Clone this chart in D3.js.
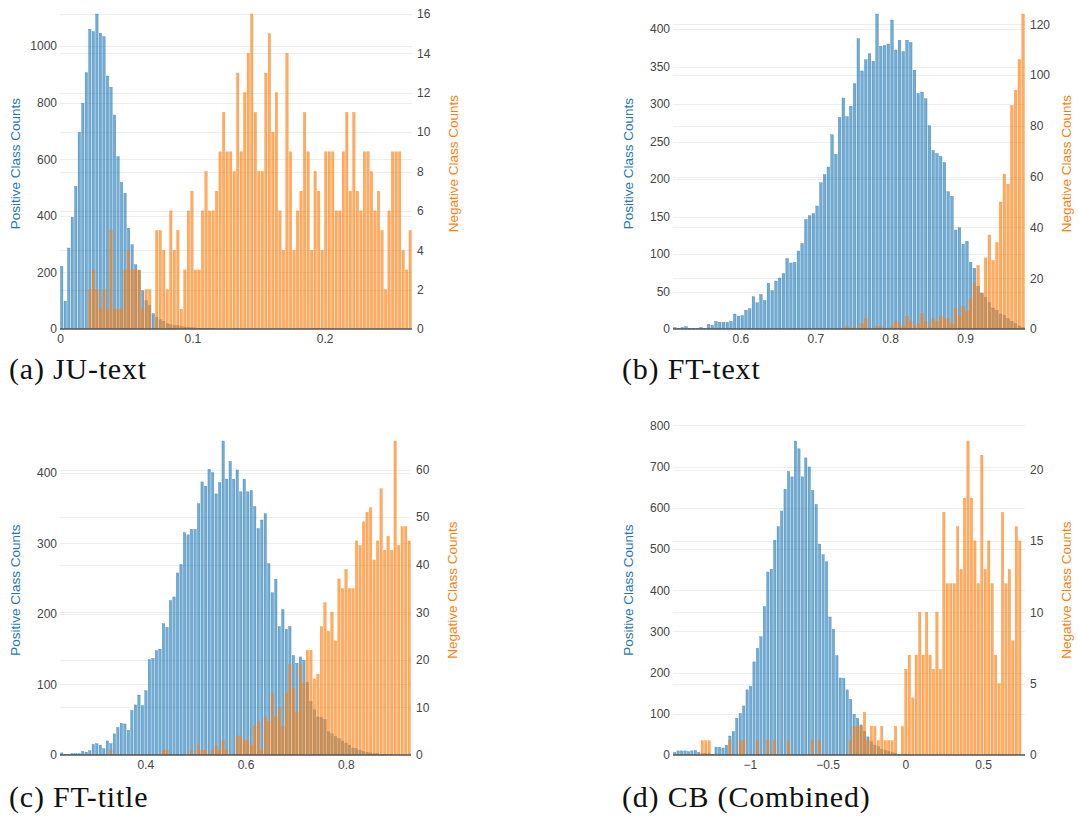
<!DOCTYPE html>
<html>
<head>
<meta charset="utf-8">
<script src="https://cdn.jsdelivr.net/npm/d3@7"></script>
<style>
  body { margin: 0; background: #fff; }
  svg text { font-family: "Liberation Sans", Arial, sans-serif; }
</style>
</head>
<body>
<div id="chart"></div>
<script>
// ---- (a) JU-text ----
var juTextBin = 0.00266, juTextPosStart = 0, juTextNegStart = 0.02128;
var juTextPos = [221,98,286,395,504,695,798,906,1059,1051,1113,1045,1033,894,854,756,609,518,480,356,
  298,227,207,135,100,82,54,42,33,27,19,15,13,12,9,7,6,5,4,3,2,2,1,1];
var juTextNeg = [2,3,2,1,2,1,5,1,1,1,3,4,3,3,3,1,2,2,0,5,5,4,2,6,4,5,1,3,6,7,3,3,6,8,6,6,7,9,11,9,9,8,13,
  9,12,14,16,11,8,8,13,15,10,12,6,4,14,9,4,6,7,11,9,4,8,7,4,9,9,9,6,6,9,11,7,11,7,6,9,9,8,6,7,5,2,6,9,9,9,4,3,5];
var juTextXTicks = [0, 0.1, 0.2];
var juTextLeftTicks = [0, 200, 400, 600, 800, 1000];
var juTextRightTicks = [0, 2, 4, 6, 8, 10, 12, 14, 16];

// ---- (b) FT-text ----
var ftTextBin = 0.005, ftTextPosStart = 0.51, ftTextNegStart = 0.74;
var ftTextPos = [2,1,2,3,1,1,1,2,1,6,5,10,9,9,9,10,20,17,18,25,27,43,35,46,38,61,51,64,68,74,
  94,88,89,104,114,146,151,154,164,195,206,216,259,233,282,308,283,297,327,387,344,359,367,357,420,
  377,378,380,412,372,385,370,385,382,345,314,316,307,271,238,234,230,222,183,177,132,135,113,117,
  89,81,57,48,42,35,28,25,20,18,14,10,7,4,2];
var ftTextNeg = [1,0,1,0,2,4,0,0,1,1,0,0,1,3,2,1,5,3,1,2,6,3,1,4,3,5,4,4,2,8,5,9,7,12,
  18,25,14,28,37,27,34,50,61,57,88,94,106,124];
var ftTextXTicks = [0.6, 0.7, 0.8, 0.9];
var ftTextLeftTicks = [0, 50, 100, 150, 200, 250, 300, 350, 400];
var ftTextRightTicks = [0, 20, 40, 60, 80, 100, 120];

// ---- (c) FT-title ----
var ftTitleBin = 0.007, ftTitlePosStart = 0.23, ftTitleNegStart = 0.328;
var ftTitlePos = [3,1,1,2,2,2,5,4,6,15,16,14,9,20,16,30,39,45,44,35,63,71,85,70,91,135,137,148,150,186,
  181,219,224,258,270,315,312,320,320,356,387,381,405,400,370,386,445,391,416,391,404,
  373,391,373,375,352,321,333,342,271,230,249,182,206,178,182,141,130,139,134,103,
  76,64,54,53,50,33,30,26,23,20,17,14,10,9,7,5,4,3,2,2,1,1,1,1];
var ftTitleNeg = [1,0,0,0,0,0,0,0,0,0,0,0,0,0,0,1,1,0,0,0,0,0,0,1,0,2,1,1,0,1,2,1,3,1,0,0,
  4,4,3,3,2,6,7,1,8,7,13,8,10,6,13,19,14,9,19,15,22,22,16,17,27,32,26,30,24,37,
  35,39,35,35,45,44,49,51,52,41,45,56,43,46,43,66,44,48,48,45];
var ftTitleXTicks = [0.4, 0.6, 0.8];
var ftTitleLeftTicks = [0, 100, 200, 300, 400];
var ftTitleRightTicks = [0, 10, 20, 30, 40, 50, 60];

// ---- (d) CB (Combined) ----
var cbBin = 0.0222, cbPosStart = -1.495, cbNegStart = -1.3174;
var cbPos = [6,10,10,10,8,10,11,6,3,4,4,2,19,19,17,24,46,57,89,101,119,158,167,226,259,287,360,444,451,
  521,554,592,645,688,675,762,743,675,721,699,642,608,512,486,469,335,305,241,187,186,158,135,99,
  89,73,57,44,32,24,20,14,12,8,6,4,2,1,1];
var cbNeg = [1,1,1,0,0,0,0,0,1,0,0,1,1,0,0,0,1,0,0,1,0,1,0,0,0,1,0,0,0,0,0,0,1,0,1,0,0,0,0,0,0,0,0,
  1,2,2,2,3,1,2,2,1,2,1,1,1,2,0,2,6,7,4,7,10,7,10,7,6,10,6,17,12,12,12,16,13,18,22,18,15,12,21,
  13,15,12,7,5,17,12,13,8,16,15];
var cbXTicks = [-1, -0.5, 0, 0.5];
var cbLeftTicks = [0, 100, 200, 300, 400, 500, 600, 700, 800];
var cbRightTicks = [0, 5, 10, 15, 20];

var blue = "#1f77b4", orange = "#ff7f0e";

var panels = [
  {caption: "(a) JU-text", pos: juTextPos, posStart: juTextPosStart, neg: juTextNeg, negStart: juTextNegStart,
   bin: juTextBin, xDomain: [0, 0.266], xTicks: juTextXTicks, leftTicks: juTextLeftTicks, rightTicks: juTextRightTicks,
   left: 60, right: 412, bottom: 329, capX: 9, capY: 379},
  {caption: "(b) FT-text", pos: ftTextPos, posStart: ftTextPosStart, neg: ftTextNeg, negStart: ftTextNegStart,
   bin: ftTextBin, xDomain: [0.51, 0.98], xTicks: ftTextXTicks, leftTicks: ftTextLeftTicks, rightTicks: ftTextRightTicks,
   left: 673, right: 1025, bottom: 329, capX: 622, capY: 379},
  {caption: "(c) FT-title", pos: ftTitlePos, posStart: ftTitlePosStart, neg: ftTitleNeg, negStart: ftTitleNegStart,
   bin: ftTitleBin, xDomain: [0.23, 0.93], xTicks: ftTitleXTicks, leftTicks: ftTitleLeftTicks, rightTicks: ftTitleRightTicks,
   left: 60, right: 411, bottom: 755, capX: 9, capY: 807},
  {caption: "(d) CB (Combined)", pos: cbPos, posStart: cbPosStart, neg: cbNeg, negStart: cbNegStart,
   bin: cbBin, xDomain: [-1.495, 0.7694], xTicks: cbXTicks, leftTicks: cbLeftTicks, rightTicks: cbRightTicks,
   left: 673, right: 1025, bottom: 755, capX: 622, capY: 807}
];
// top of the (cropped) top row and of the bottom row
var rowTop = {329: -1.75, 755: 425.3};

var svg = d3.select("#chart").append("svg")
    .attr("width", 1079)
    .attr("height", 816);

function toBins(counts, start, w) {
  return counts.map(function(v, i) { return {x0: start + i * w, x1: start + (i + 1) * w, v: v}; });
}

panels.forEach(function(p, k) {
  var top = rowTop[p.bottom];
  var g = svg.append("g");

  var x = d3.scaleLinear().domain(p.xDomain).range([p.left, p.right]);
  var yL = d3.scaleLinear().domain([0, d3.max(p.pos) * 1.05]).range([p.bottom, top]);
  var yR = d3.scaleLinear().domain([0, d3.max(p.neg) * 1.05]).range([p.bottom, top]);

  g.append("clipPath").attr("id", "clip" + k)
    .append("rect")
      .attr("x", p.left).attr("y", Math.max(top, 0))
      .attr("width", p.right - p.left).attr("height", p.bottom - Math.max(top, 0));

  // grid lines for both y axes
  g.selectAll(".gl").data(p.leftTicks.slice(1)).enter().append("line")
    .attr("x1", p.left).attr("x2", p.right)
    .attr("y1", function(d) { return Math.round(yL(d)) + 0.5; })
    .attr("y2", function(d) { return Math.round(yL(d)) + 0.5; })
    .attr("stroke", "#eee").attr("stroke-width", 1);
  g.selectAll(".gr").data(p.rightTicks.slice(1)).enter().append("line")
    .attr("x1", p.left).attr("x2", p.right)
    .attr("y1", function(d) { return Math.round(yR(d)) + 0.5; })
    .attr("y2", function(d) { return Math.round(yR(d)) + 0.5; })
    .attr("stroke", "#eee").attr("stroke-width", 1);

  var bars = g.append("g").attr("clip-path", "url(#clip" + k + ")");

  // positive class (left axis)
  bars.selectAll(".pos").data(toBins(p.pos, p.posStart, p.bin)).enter().append("rect")
    .attr("x", function(d) { return x(d.x0) + 0.5; })
    .attr("width", function(d) { return Math.max(0, x(d.x1) - x(d.x0) - 1.1); })
    .attr("y", function(d) { return yL(d.v); })
    .attr("height", function(d) { return p.bottom - yL(d.v); })
    .attr("fill", blue).attr("fill-opacity", 0.62)
    .attr("stroke", blue).attr("stroke-opacity", 0.75).attr("stroke-width", 0.4);

  // negative class (right axis)
  bars.selectAll(".neg").data(toBins(p.neg, p.negStart, p.bin)).enter().append("rect")
    .attr("x", function(d) { return x(d.x0) + 0.5; })
    .attr("width", function(d) { return Math.max(0, x(d.x1) - x(d.x0) - 1.1); })
    .attr("y", function(d) { return yR(d.v); })
    .attr("height", function(d) { return p.bottom - yR(d.v); })
    .attr("fill", orange).attr("fill-opacity", 0.65)
    .attr("stroke", orange).attr("stroke-opacity", 0.7).attr("stroke-width", 0.4);

  // baseline
  g.append("line")
    .attr("x1", p.left).attr("x2", p.right)
    .attr("y1", p.bottom).attr("y2", p.bottom)
    .attr("stroke", "#555").attr("stroke-width", 1.5);

  // axes
  var fmt = d3.format("");
  var xAxis = g.append("g").attr("transform", "translate(0," + p.bottom + ")")
    .call(d3.axisBottom(x).tickValues(p.xTicks).tickSize(0).tickPadding(5).tickFormat(fmt));
  var yAxisL = g.append("g").attr("transform", "translate(" + p.left + ",0)")
    .call(d3.axisLeft(yL).tickValues(p.leftTicks).tickSize(0).tickPadding(3).tickFormat(fmt));
  var yAxisR = g.append("g").attr("transform", "translate(" + p.right + ",0)")
    .call(d3.axisRight(yR).tickValues(p.rightTicks).tickSize(0).tickPadding(5).tickFormat(fmt));
  [xAxis, yAxisL, yAxisR].forEach(function(a) {
    a.select(".domain").remove();
    a.selectAll("text").attr("fill", "#444").attr("font-size", 12)
      .attr("font-family", "Liberation Sans, Arial, sans-serif");
  });

  // axis titles
  var midY = (top + p.bottom) / 2;
  g.append("text")
    .attr("transform", "translate(" + (p.left - 45) + "," + midY + ") rotate(-90)")
    .attr("text-anchor", "middle").attr("dy", "0.35em")
    .attr("font-size", 13.5).attr("fill", blue)
    .text("Positive Class Counts");
  g.append("text")
    .attr("transform", "translate(" + (p.right + 41) + "," + midY + ") rotate(-90)")
    .attr("text-anchor", "middle").attr("dy", "0.35em")
    .attr("font-size", 13.5).attr("fill", orange)
    .text("Negative Class Counts");

  // caption
  g.append("text")
    .attr("x", p.capX).attr("y", p.capY)
    .attr("font-size", 30)
    .attr("letter-spacing", 0.8)
    .style("font-family", "'Liberation Serif', 'DejaVu Serif', serif")
    .attr("fill", "#111")
    .text(p.caption);
});
</script>
</body>
</html>
